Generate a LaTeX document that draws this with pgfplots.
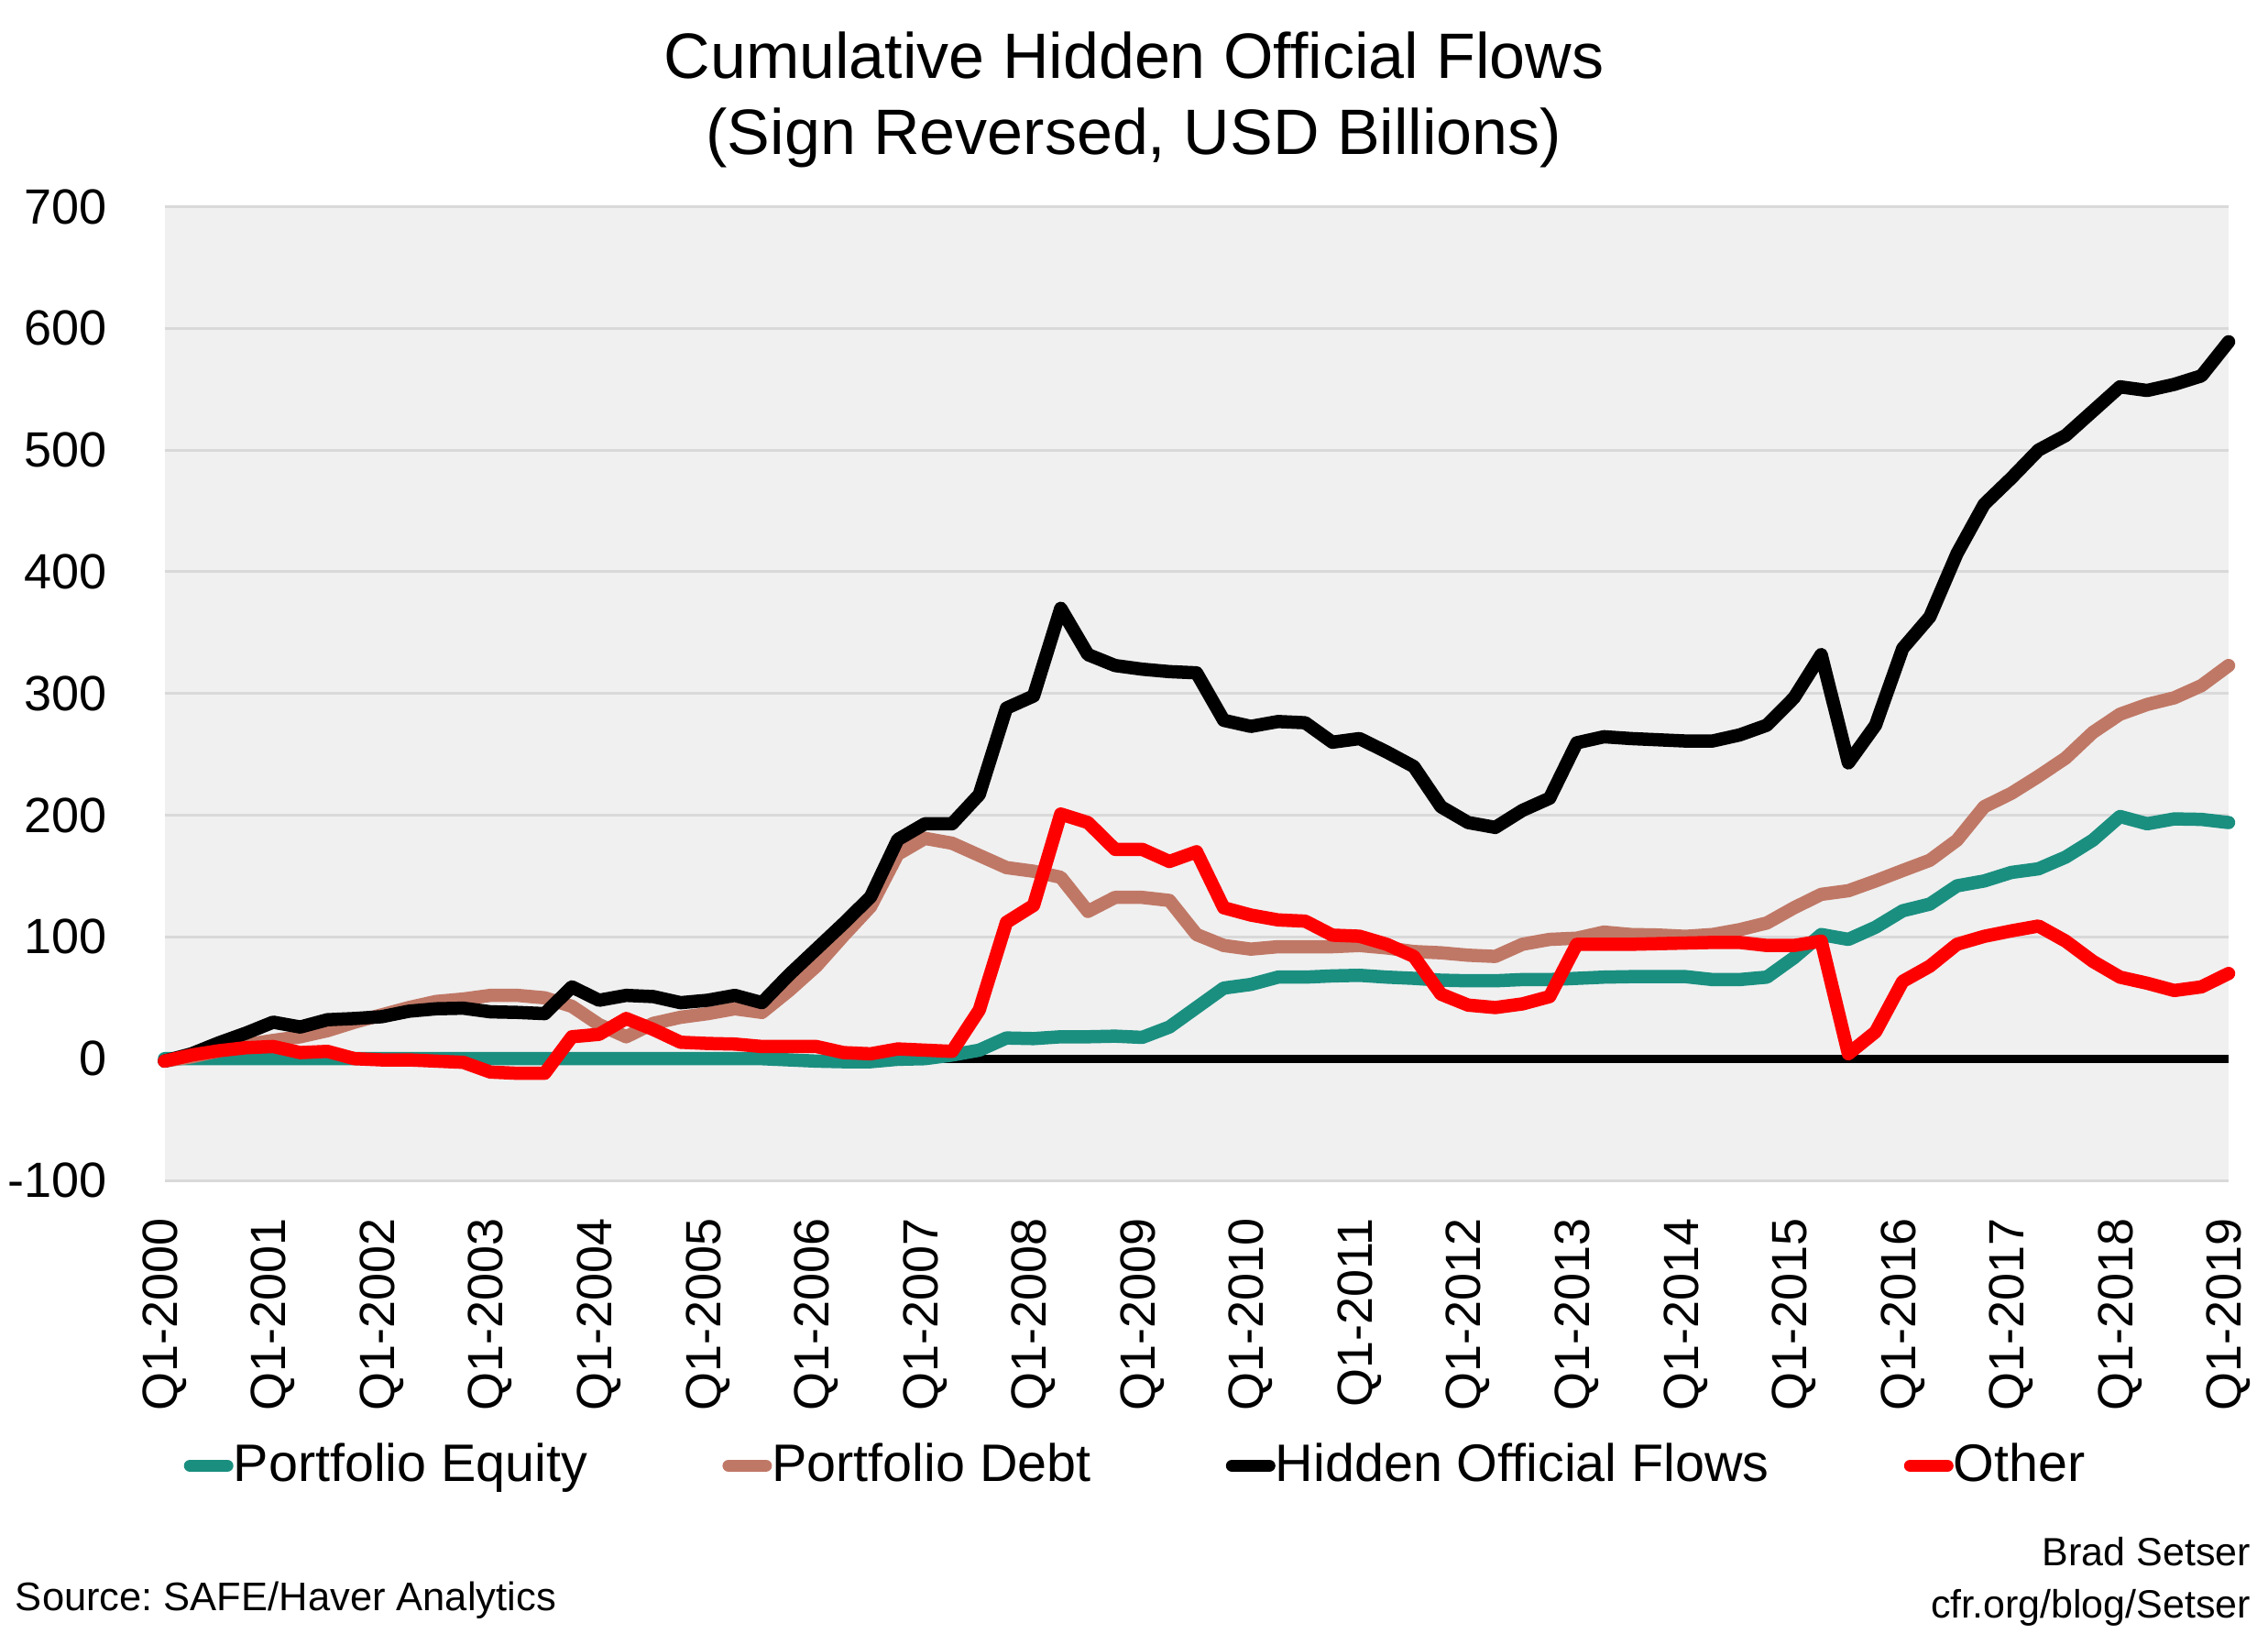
\documentclass[border=0pt]{standalone}
\usepackage{fontspec}
\setmainfont{Liberation Sans}
\usepackage{pgfplots}
\pgfplotsset{compat=1.18}
\usepackage{pgfplotstable}
\frenchspacing

\definecolor{eqc}{HTML}{1A8F80}
\definecolor{debtc}{HTML}{C07866}
\definecolor{otherc}{HTML}{FF0000}
\definecolor{gridc}{HTML}{D9D9D9}
\definecolor{bgc}{HTML}{F0F0F0}

% quarter index (0 = Q1-2000), cumulative USD bn
\pgfplotstableread{
q  eq     debt   hidden  other
0  0      -2     -2      -2
1  0      1.5    4       3
2  0      6.5    13      6.5
3  0      11.5   21      9
4  0      15     30      10
5  0      18     26      5
6  0      23     32      6
7  0      30     33      0
8  0      36     34.5    -1
9  0      42     39      -1
10 0      47     41      -2
11 0      49     41.5    -3
12 0      52     38.5    -11
13 0      52     38      -12
14 0      50     37      -12
15 0      43     59      18
16 0      28     48      20
17 0      18     52      33
18 0      29     51      24
19 0      34     46      13.5
20 0      37     48      12.5
21 0      41     52      12
22 0      38     46      10
23 -1     56     69      10
24 -2     76     90      10
25 -2.5   101    111     5
26 -2.5   125    133     4
27 -0.5   168    180     8
28 0      181    193     7
29 3      177    193     6
30 7      167    217     40
31 17     157    288     112
32 16.5   154    298     126
33 18     149    370     201
34 18     121    332     194
35 18.5   132.5  323     172
36 17.5   132.5  320     172
37 26     130    318     162
38 42     102    317     170
39 58     93     278     124
40 61     90     273     118
41 67     92     277     114
42 67     92     276     113
43 68     92     260     101.5
44 68.5   93     263     100.6
45 67     91     252     94
46 66     88     240     84
47 64.5   87     207     53
48 64     85     194     44
49 64     84     190     42
50 65     94     204     45
51 65     98     214     51
52 66     99     259.5   94
53 67     104    264.5   94
54 67.4   102    263     94
55 67.4   101.6  262     94.5
56 67.4   100.5  261     95
57 65     102    261     95.5
58 65     106    266     95.5
59 67     111.5  274     93
60 83     124    296.5   93
61 102    135    332     96.6
62 98     138    243     4
63 108    146    274     22
64 121.5  154.6  337     63.5
65 127    163    363     76
66 142    179.5  415     94
67 146    207    455.5   100.5
68 153    218    477     105
69 156    232    500     109
70 165.6  247    512     96.6
71 179.5  268    532     80
72 199    283    552     67
73 193    291    549     62
74 197    296.5  554     56
75 196.6  306.5  561     59
76 194    323    589     70
}\flows

\begin{document}
\begin{tikzpicture}
\path[use as bounding box] (0,0) rectangle (495pt,-356.4pt);

\node[anchor=base, inner sep=0pt, font=\fontsize{14}{16}\selectfont] at (247.5pt,-17pt) {Cumulative Hidden Official Flows};
\node[anchor=base, inner sep=0pt, font=\fontsize{14}{16}\selectfont] at (247.5pt,-33.6pt) {(Sign Reversed, USD Billions)};

\begin{axis}[
  at={(35.9pt,-257.6pt)}, anchor=south west,
  scale only axis, width=450.5pt, height=212.5pt,
  xmin=0, xmax=76, ymin=-100, ymax=700,
  clip=false,
  axis line style={draw=none},
  major tick length=0pt,
  xtick={0,4,...,76},
  xticklabels={Q1-2000,Q1-2001,Q1-2002,Q1-2003,Q1-2004,Q1-2005,Q1-2006,Q1-2007,Q1-2008,Q1-2009,Q1-2010,Q1-2011,Q1-2012,Q1-2013,Q1-2014,Q1-2015,Q1-2016,Q1-2017,Q1-2018,Q1-2019},
  ytick={-100,0,100,200,300,400,500,600,700},
  yticklabels={-100,0,100,200,300,400,500,600,700},
  xticklabel style={font=\fontsize{10.8}{12}\selectfont, rotate=90, anchor=east, inner sep=0pt},
  xticklabel shift=8pt,
  yticklabel style={font=\fontsize{10.8}{12}\selectfont, anchor=east, inner sep=0pt},
  yticklabel shift=12.3pt,
  ymajorgrids,
  major grid style={gridc, line width=0.6pt},
  extra y ticks={0},
  extra y tick labels={},
  extra y tick style={major grid style={black, line width=1.8pt}},
  axis background/.style={fill=bgc},
  legend columns=4,
  legend style={at={(0.47,-0.293)}, anchor=center, draw=none, fill=none,
    font=\fontsize{11.5}{13}\selectfont, inner sep=0pt,
    nodes={inner sep=0pt},
    /tikz/every even column/.append style={column sep=29.4pt}},
  legend cell align=left,
  legend image code/.code={\draw[#1, line width=2.7pt, line cap=round] (1.35pt,0pt) -- (9.45pt,0pt);},
  every axis plot/.append style={line width=2.9pt, line join=round, line cap=round},
]
\addplot[color=eqc] table[x=q, y=eq] {\flows};
\addlegendentry{Portfolio Equity}
\addplot[color=debtc] table[x=q, y=debt] {\flows};
\addlegendentry{Portfolio Debt}
\addplot[color=black] table[x=q, y=hidden] {\flows};
\addlegendentry{Hidden Official Flows}
\addplot[color=otherc] table[x=q, y=other] {\flows};
\addlegendentry{Other}
\end{axis}

\node[anchor=base west, inner sep=0pt, font=\fontsize{8.7}{10}\selectfont] at (3.2pt,-351.4pt) {Source: SAFE/Haver Analytics};
\node[anchor=base east, inner sep=0pt, font=\fontsize{8.6}{10}\selectfont] at (491.4pt,-341.7pt) {Brad Setser};
\node[anchor=base east, inner sep=0pt, font=\fontsize{8.6}{10}\selectfont] at (491.4pt,-353pt) {cfr.org/blog/Setser};
\end{tikzpicture}
\end{document}
